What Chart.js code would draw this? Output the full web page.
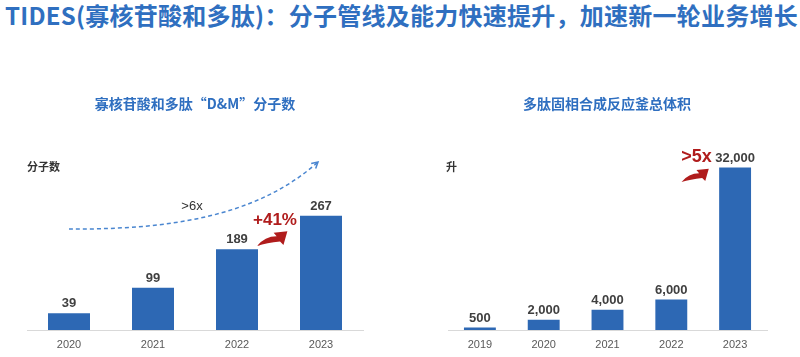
<!DOCTYPE html>
<html><head><meta charset="utf-8">
<script src="https://cdn.jsdelivr.net/npm/chart.js@4.4.1/dist/chart.umd.min.js"></script>
<style>
html,body{margin:0;padding:0;background:#fff;width:800px;height:357px;overflow:hidden;position:relative;}
#title{position:absolute;left:5px;top:-3px;font:bold 24px "Noto Sans CJK SC","Noto Sans",sans-serif;color:#2F6FC0;white-space:nowrap;letter-spacing:0.25px;}
#c1{position:absolute;left:0;top:80px;}
#c2{position:absolute;left:400px;top:80px;}
</style></head><body>
<div id="title">TIDES(寡核苷酸和多肽)：分子管线及能力快速提升，加速新一轮业务增长</div>
<canvas id="c1" width="400" height="277"></canvas>
<canvas id="c2" width="400" height="277"></canvas>
<script>
const mainTitle = 'TIDES(寡核苷酸和多肽)：分子管线及能力快速提升，加速新一轮业务增长';
const leftTitle = '寡核苷酸和多肽“D&M”分子数';
const leftUnit = '分子数';
const leftCategories = ['2020','2021','2022','2023'];
const leftValues = [39, 99, 189, 267];
const leftLabels = ['39','99','189','267'];
const leftGrowthLabel = '>6x';
const leftYoYLabel = '+41%';

const rightTitle = '多肽固相合成反应釜总体积';
const rightUnit = '升';
const rightCategories = ['2019','2020','2021','2022','2023'];
const rightValues = [500, 2000, 4000, 6000, 32000];
const rightLabels = ['500','2,000','4,000','6,000','32,000'];
const rightGrowthLabel = '>5x';

const BLUE = '#2D68B4';
const RED = '#B01C1C';
const TITLE_BLUE = '#2F6FC0';
const LABEL_DARK = '#404040';

function swoosh(ctx, x0, y0, s){
  ctx.save();
  ctx.translate(x0, y0);
  ctx.scale(s, s);
  ctx.beginPath();
  ctx.moveTo(0,0);
  ctx.quadraticCurveTo(8,-10, 20,-10);
  ctx.lineTo(17,-13.5);
  ctx.lineTo(31,-15);
  ctx.lineTo(27,-1);
  ctx.lineTo(23.5,-4.5);
  ctx.quadraticCurveTo(10,-3, 0,0);
  ctx.closePath();
  ctx.fillStyle = RED;
  ctx.fill();
  ctx.restore();
}

function makePlugin(opts){
  return {
    id: 'annot',
    afterDatasetsDraw(chart){
      const ctx = chart.ctx;
      const meta = chart.getDatasetMeta(0);
      ctx.save();
      ctx.fillStyle = TITLE_BLUE;
      ctx.font = 'bold 14px "Noto Sans CJK SC", sans-serif';
      ctx.textAlign = 'center';
      ctx.textBaseline = 'middle';
      ctx.fillText(opts.title, opts.titleX, 24);
      ctx.fillStyle = '#333';
      ctx.font = 'bold 11px "Noto Sans CJK SC", sans-serif';
      ctx.textAlign = 'left';
      ctx.fillText(opts.unit, opts.unitX, 87);
      ctx.fillStyle = LABEL_DARK;
      ctx.font = 'bold 13px "Liberation Sans", Arial, sans-serif';
      ctx.textAlign = 'center';
      ctx.textBaseline = 'bottom';
      meta.data.forEach((bar, i) => {
        ctx.fillText(opts.labels[i], bar.x, bar.y - 3);
      });
      if (opts.extra) opts.extra(chart, ctx, meta);
      ctx.restore();
    }
  };
}

function baseConfig(categories, values, ymax, pad, plugin){
  return {
    type: 'bar',
    data: { labels: categories, datasets: [{ data: values, backgroundColor: BLUE, borderWidth: 0, barPercentage: 0.5, categoryPercentage: 1.0 }] },
    options: {
      responsive: false, animation: false, devicePixelRatio: 1,
      layout: { padding: pad },
      plugins: { legend: { display: false }, tooltip: { enabled: false }, title: { display: false } },
      scales: {
        x: {
          grid: { display: false, drawTicks: false },
          border: { display: true, color: '#D9D9D9', width: 1 },
          ticks: { color: '#595959', font: { family: '"Liberation Sans", Arial, sans-serif', size: 11 }, padding: 8 },
          afterFit: (axis) => { axis.height = 27; }
        },
        y: { display: false, min: 0, max: ymax }
      }
    },
    plugins: [plugin]
  };
}

const leftPlugin = makePlugin({
  title: leftTitle, titleX: 195, unit: leftUnit, unitX: 27, labels: leftLabels,
  extra(chart, ctx, meta){
    const x = chart.scales.x, y = chart.scales.y;
    const p0 = [x.getPixelForValue(0), y.getPixelForValue(236)];
    const p3 = [x.getPixelForValue(3) - 3, y.getPixelForValue(393)];
    const c1 = [150, p0[1]];
    const c2 = [250, p0[1] - 6];
    ctx.strokeStyle = '#4A86D0';
    ctx.lineWidth = 1.5;
    ctx.setLineDash([4,3]);
    ctx.beginPath();
    ctx.moveTo(p0[0], p0[1]);
    ctx.bezierCurveTo(c1[0], c1[1], c2[0], c2[1], p3[0], p3[1]);
    ctx.stroke();
    ctx.setLineDash([]);
    const ang = Math.atan2(p3[1]-c2[1], p3[0]-c2[0]);
    ctx.beginPath();
    ctx.moveTo(p3[0] - 7*Math.cos(ang-0.5), p3[1] - 7*Math.sin(ang-0.5));
    ctx.lineTo(p3[0], p3[1]);
    ctx.lineTo(p3[0] - 7*Math.cos(ang+0.5), p3[1] - 7*Math.sin(ang+0.5));
    ctx.stroke();
    ctx.fillStyle = '#333';
    ctx.font = '13px "Liberation Sans", Arial, sans-serif';
    ctx.textAlign = 'center';
    ctx.textBaseline = 'middle';
    ctx.fillText(leftGrowthLabel, 192, 126);
    ctx.fillStyle = RED;
    ctx.font = 'bold 17px "Liberation Sans", Arial, sans-serif';
    ctx.fillText(leftYoYLabel, 275, 140);
    swoosh(ctx, 257, 166, 0.98);
  }
});

const rightPlugin = makePlugin({
  title: rightTitle, titleX: 207, unit: rightUnit, unitX: 46, labels: rightLabels,
  extra(chart, ctx, meta){
    ctx.fillStyle = RED;
    ctx.font = 'bold 18px "Liberation Sans", Arial, sans-serif';
    ctx.textAlign = 'center';
    ctx.textBaseline = 'middle';
    ctx.fillText(rightGrowthLabel, 296.5, 77);
    swoosh(ctx, 281.5, 102, 0.88);
  }
});

new Chart(document.getElementById('c1'), baseConfig(leftCategories, leftValues, 400, {left:27, right:37, top:79, bottom:0}, leftPlugin));
new Chart(document.getElementById('c2'), baseConfig(rightCategories, rightValues, 40000, {left:48, right:33, top:47, bottom:0}, rightPlugin));
</script>
</body></html>
